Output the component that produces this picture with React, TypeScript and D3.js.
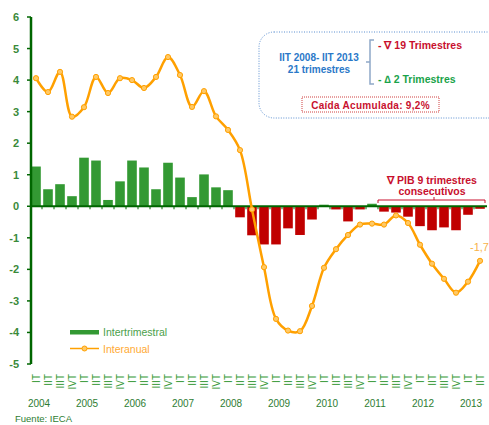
import { useEffect, useRef } from "react"
import * as d3 from "d3"

const years = ["2004", "2005", "2006", "2007", "2008", "2009", "2010", "2011", "2012", "2013"]
const quarterLabels = ["IT", "IIT", "IIIT", "IVT"]

// Variación intertrimestral (%), 2004 IT - 2013 IIT
const intertrimestral = [
  1.26, 0.54, 0.7, 0.32,
  1.54, 1.45, 0.2, 0.79,
  1.45, 1.23, 0.54, 1.38,
  0.91, 0.29, 1.01, 0.6,
  0.51, -0.35, -0.92, -1.21,
  -1.21, -0.7, -0.91, -0.42,
  0.05, -0.1, -0.48, -0.1,
  0.08, -0.17, -0.2, -0.33,
  -0.63, -0.76, -0.67, -0.76,
  -0.27, -0.08,
]

// Variación interanual (%)
const interanual = [
  4.06, 3.62, 4.26, 2.84,
  3.14, 4.1, 3.59, 4.06,
  4.0, 3.75, 4.1, 4.73,
  4.16, 3.15, 3.65, 2.85,
  2.42, 1.78, -0.1, -1.93,
  -3.57, -3.94, -3.96, -3.16,
  -1.95, -1.36, -0.91, -0.58,
  -0.55, -0.58, -0.29, -0.53,
  -1.22, -1.82, -2.3, -2.74,
  -2.39, -1.73,
]

const yTicks = [6, 5, 4, 3, 2, 1, 0, -1, -2, -3, -4, -5]

const quarters = intertrimestral.map((_, i) => ({
  key: `${years[Math.floor(i / 4)]}-${i % 4}`,
  year: years[Math.floor(i / 4)],
  q: quarterLabels[i % 4],
  qi: i % 4,
  bar: intertrimestral[i],
  line: interanual[i],
}))

export default function App() {
  const svgRef = useRef<SVGSVGElement>(null)

  useEffect(() => {
    if (!svgRef.current) return
    const svg = d3.select(svgRef.current)
    svg.selectAll("*").remove()

    const font = "'Liberation Sans', Arial, sans-serif"
    const green = "#339933"
    const red = "#c00000"
    const orange = "#ffa000"

    const x = d3
      .scaleBand()
      .domain(quarters.map((d) => d.key))
      .range([30, 486])
      .paddingInner(0.2)
      .paddingOuter(0.1)

    const y = d3.scaleLinear().domain([-5, 6]).range([364, 17])
    const cx = (k: string) => (x(k) || 0) + x.bandwidth() / 2

    // Bars
    svg
      .append("g")
      .selectAll("rect")
      .data(quarters)
      .enter()
      .append("rect")
      .attr("x", (d) => x(d.key) || 0)
      .attr("y", (d) => y(Math.max(0, d.bar)))
      .attr("width", x.bandwidth())
      .attr("height", (d) => Math.abs(y(d.bar) - y(0)))
      .attr("fill", (d) => (d.bar >= 0 ? green : red))

    // Zero line with small ticks between categories
    svg
      .append("line")
      .attr("x1", 31)
      .attr("x2", 487)
      .attr("y1", y(0))
      .attr("y2", y(0))
      .attr("stroke", "#006600")
      .attr("stroke-width", 2)

    svg
      .append("g")
      .selectAll("line")
      .data(quarters.slice(1))
      .enter()
      .append("line")
      .attr("x1", (d) => (x(d.key) || 0) - (x.step() - x.bandwidth()) / 2)
      .attr("x2", (d) => (x(d.key) || 0) - (x.step() - x.bandwidth()) / 2)
      .attr("y1", y(0))
      .attr("y2", y(0) + 3)
      .attr("stroke", "#006600")
      .attr("stroke-width", 1)

    // Y axis
    svg
      .append("line")
      .attr("x1", 31)
      .attr("x2", 31)
      .attr("y1", y(6))
      .attr("y2", y(-5))
      .attr("stroke", "#006600")
      .attr("stroke-width", 2.5)

    const yt = svg.append("g").selectAll("g").data(yTicks).enter().append("g")
    yt.append("line")
      .attr("x1", 27)
      .attr("x2", 31)
      .attr("y1", (d) => y(d))
      .attr("y2", (d) => y(d))
      .attr("stroke", "#006600")
      .attr("stroke-width", 1.5)
    yt.append("text")
      .attr("x", 19)
      .attr("y", (d) => y(d) + 4)
      .attr("text-anchor", "end")
      .attr("font-family", font)
      .attr("font-size", "11px")
      .attr("font-weight", "bold")
      .attr("fill", "#3a8a3a")
      .text((d) => `${d}`)

    // Quarter labels (rotated)
    svg
      .append("g")
      .selectAll("text")
      .data(quarters)
      .enter()
      .append("text")
      .attr("transform", (d) => `translate(${cx(d.key) + 4},374) rotate(-90)`)
      .attr("text-anchor", "end")
      .attr("font-family", font)
      .attr("font-size", "10px")
      .attr("fill", "#3a9a3a")
      .text((d) => d.q)

    // Year labels
    svg
      .append("g")
      .selectAll("text")
      .data(quarters.filter((d) => d.qi === 0))
      .enter()
      .append("text")
      .attr("x", (d) => cx(d.key) + 3)
      .attr("y", 407)
      .attr("text-anchor", "middle")
      .attr("font-family", font)
      .attr("font-size", "10px")
      .attr("fill", "#2e7d32")
      .text((d) => d.year)

    // Interanual line
    const line = d3
      .line<(typeof quarters)[number]>()
      .x((d) => cx(d.key))
      .y((d) => y(d.line))
      .curve(d3.curveCatmullRom.alpha(0.5))

    svg
      .append("path")
      .datum(quarters)
      .attr("d", line)
      .attr("fill", "none")
      .attr("stroke", orange)
      .attr("stroke-width", 2.5)

    svg
      .append("g")
      .selectAll("circle")
      .data(quarters)
      .enter()
      .append("circle")
      .attr("cx", (d) => cx(d.key))
      .attr("cy", (d) => y(d.line))
      .attr("r", 2.6)
      .attr("fill", "#ffc966")
      .attr("stroke", orange)
      .attr("stroke-width", 1)

    const last = quarters[quarters.length - 1]
    svg
      .append("text")
      .attr("x", cx(last.key) - 10)
      .attr("y", y(last.line) - 10)
      .attr("font-family", font)
      .attr("font-size", "11px")
      .attr("fill", "#f7b24a")
      .text("-1,7")

    // Legend
    svg.append("rect").attr("x", 70).attr("y", 330).attr("width", 29).attr("height", 4.5).attr("fill", green)
    svg
      .append("text")
      .attr("x", 103)
      .attr("y", 336)
      .attr("font-family", font)
      .attr("font-size", "10.5px")
      .attr("fill", "#4aa04a")
      .text("Intertrimestral")
    svg
      .append("line")
      .attr("x1", 70)
      .attr("x2", 99)
      .attr("y1", 348.5)
      .attr("y2", 348.5)
      .attr("stroke", orange)
      .attr("stroke-width", 1.5)
    svg
      .append("circle")
      .attr("cx", 84.5)
      .attr("cy", 348.5)
      .attr("r", 2.5)
      .attr("fill", "#ffc966")
      .attr("stroke", orange)
    svg
      .append("text")
      .attr("x", 103)
      .attr("y", 352.5)
      .attr("font-family", font)
      .attr("font-size", "10.5px")
      .attr("fill", "#ffaa33")
      .text("Interanual")

    // Source
    svg
      .append("text")
      .attr("x", 15)
      .attr("y", 422)
      .attr("font-family", font)
      .attr("font-size", "9.5px")
      .attr("fill", "#2e7d32")
      .text("Fuente: IECA")

    // Annotation box
    svg
      .append("rect")
      .attr("x", 259)
      .attr("y", 32)
      .attr("width", 245)
      .attr("height", 86)
      .attr("rx", 15)
      .attr("fill", "none")
      .attr("stroke", "#5b8fd0")
      .attr("stroke-width", 1)
      .attr("stroke-dasharray", "1,1.5")

    const blueText = svg
      .append("text")
      .attr("text-anchor", "middle")
      .attr("font-family", font)
      .attr("font-size", "10px")
      .attr("font-weight", "bold")
      .attr("fill", "#2a78c8")
    blueText.append("tspan").attr("x", 319).attr("y", 61).text("IIT 2008- IIT 2013")
    blueText.append("tspan").attr("x", 319).attr("y", 73).text("21 trimestres")

    svg
      .append("path")
      .attr("d", "M374,40 H370 V84 H374 M370,62 H366")
      .attr("fill", "none")
      .attr("stroke", "#8fa8c8")
      .attr("stroke-width", 1.5)

    svg
      .append("text")
      .attr("x", 378)
      .attr("y", 49)
      .attr("font-family", font)
      .attr("font-size", "10.5px")
      .attr("font-weight", "bold")
      .attr("fill", "#c8102e")
      .text("- ∇ 19 Trimestres")

    svg
      .append("text")
      .attr("x", 378)
      .attr("y", 83)
      .attr("font-family", font)
      .attr("font-size", "10.5px")
      .attr("font-weight", "bold")
      .attr("fill", "#1aa34a")
      .text("- ∆ 2 Trimestres")

    svg
      .append("rect")
      .attr("x", 302)
      .attr("y", 97)
      .attr("width", 137)
      .attr("height", 15)
      .attr("fill", "none")
      .attr("stroke", "#d04040")
      .attr("stroke-width", 1)
      .attr("stroke-dasharray", "1,1")
    svg
      .append("text")
      .attr("x", 370.5)
      .attr("y", 108.5)
      .attr("text-anchor", "middle")
      .attr("font-family", font)
      .attr("font-size", "10px")
      .attr("font-weight", "bold")
      .attr("letter-spacing", "0.3px")
      .attr("fill", "#c8102e")
      .text("Caída Acumulada: 9,2%")

    // PIB annotation
    const pib = svg
      .append("text")
      .attr("text-anchor", "middle")
      .attr("font-family", font)
      .attr("font-size", "10.5px")
      .attr("font-weight", "bold")
      .attr("fill", "#c8102e")
    pib.append("tspan").attr("x", 432).attr("y", 184).text("∇ PIB 9 trimestres")
    pib.append("tspan").attr("x", 432).attr("y", 195).text("consecutivos")

    svg
      .append("path")
      .attr("d", "M378,203 V200 H485 V203 M434,200 V197")
      .attr("fill", "none")
      .attr("stroke", "#c8102e")
      .attr("stroke-width", 1)
  }, [])

  return (
    <div style={{ position: "absolute", left: 0, top: 0 }}>
      <svg ref={svgRef} width={489} height={425} style={{ display: "block", background: "#fff" }}></svg>
    </div>
  )
}
